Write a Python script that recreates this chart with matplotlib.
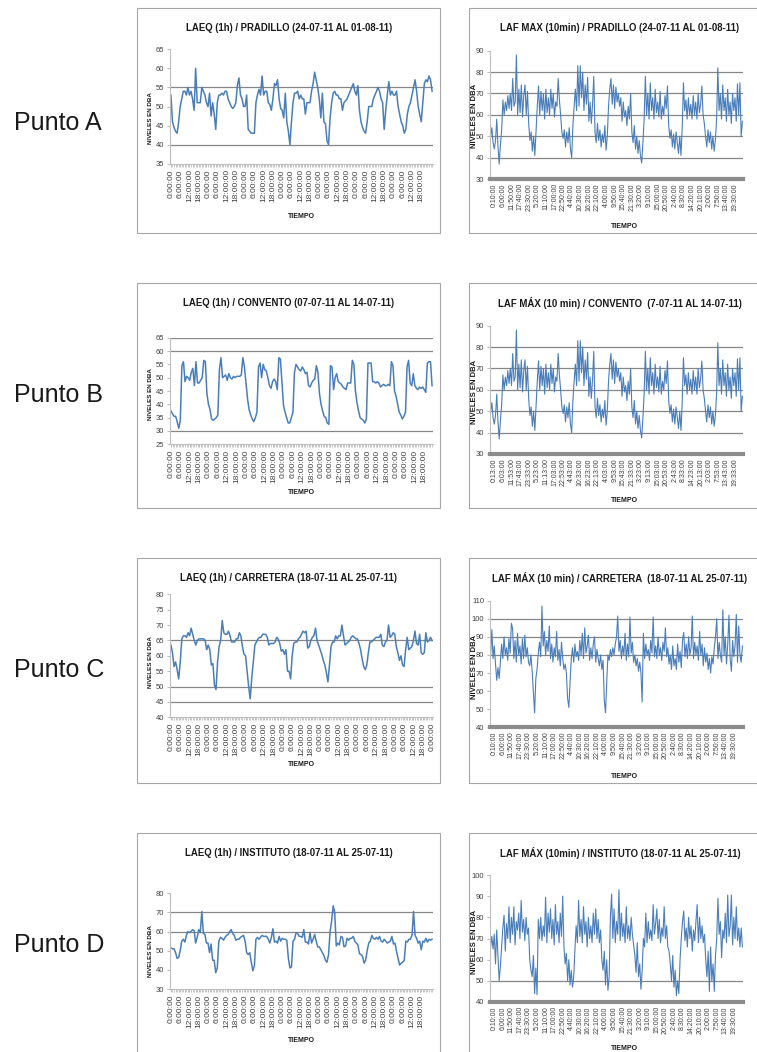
import numpy as np
import matplotlib
matplotlib.use('Agg')
import matplotlib.pyplot as plt
from matplotlib.patches import Rectangle

# ---- data ----
# hourly LAeq (one row of values per 6 h)
laeq_pradillo = [
    53, 46, 44.5, 43.5, 43, 46,  50, 52, 54, 54, 53, 55,  53, 54, 52, 49, 60, 51,  51, 51, 55, 54, 53, 51,
    50, 53.5, 47.5, 51, 48, 44,  51, 53, 53, 53.5, 53, 54,  54, 52, 51, 50, 49.5, 50,  51, 55.5, 57.5, 53, 52, 50,
    50, 53, 44, 43.5, 43, 43,  43, 51, 53, 54.5, 53, 58,  53, 54, 54, 51, 50.5, 49,  52, 56, 55.5, 57, 52, 49.5,
    49, 47, 53.5, 46, 43.5, 40,  46, 51, 53.5, 53.5, 54, 52,  53, 52, 52, 48, 51, 51,  51, 54, 56, 59, 57, 55,
    52, 47, 53.5, 46, 45.5, 41,  40, 47, 51, 53.5, 54, 53,  53, 52, 52, 49, 51, 51.5,  52, 53, 54, 55, 56, 54,
    53, 55.5, 49, 46, 44.5, 43.5,  43, 46, 50, 50, 50, 52,  53, 54, 55, 54, 52, 51,  44, 49, 53, 56.5, 53, 54,
    53, 53, 54, 50, 48, 46,  45, 43, 44, 48, 50, 51,  53, 55, 57, 54, 50, 48,  46, 51, 56, 57, 56.5, 58,
    57, 54]

laeq_convento = [
    37.5, 36.5, 35.5, 35.5, 33.5, 31, 34, 54.5, 56, 48.5, 50.5, 50, 49, 52, 53.5, 47, 56, 48, 48, 49, 50, 56.5, 56, 44,
    40, 38, 34.5, 34, 34.5, 35, 36, 53, 57.5, 50, 50.5, 51, 49, 51.5, 50, 49.5, 50.5, 50, 50.5, 50.5, 50.5, 51, 57.5, 54,
    48, 42, 38, 36, 34.5, 33.5, 35, 37, 54, 55.5, 50, 55, 53, 52.5, 50, 47, 46, 48.5, 49.5, 48.5, 45.5, 57.5, 57, 48,
    39.5, 37, 35, 33, 33, 35, 37, 52, 55, 54, 53, 52.5, 54, 53, 51.5, 52, 47, 46.5, 48, 49, 49.5, 54.5, 52, 44,
    40, 37.5, 35.5, 35, 33, 32.5, 54.5, 54, 45.5, 50, 51.5, 48.5, 48, 47.5, 46.5, 46, 45.5, 48, 48, 48, 56.5, 55, 45, 40.5,
    37.5, 35, 34.5, 34, 33, 34.5, 55.5, 55.5, 55.5, 48.5, 48.5, 48, 48.5, 48, 46.5, 47, 47.5, 47, 47, 47.5, 47, 56, 54.5, 45,
    43, 40, 37, 36, 34.5, 35.5, 37, 54, 56.5, 48, 47, 51.5, 47, 46, 45.5, 46.5, 46, 46.5, 45.5, 44.5, 55.5, 56, 56, 47]

laeq_carretera = [
    63.5, 61, 56.5, 58, 55.5, 52.5, 58, 65.5, 66.5, 66.5, 66, 67.5, 66.5, 69, 67, 65, 63.5, 65, 65.5, 65.5, 65.5, 65.5, 65, 62,
    63.5, 62, 57, 57.5, 50.5, 49, 58, 63, 65, 71.5, 67.5, 67, 67, 68, 66.5, 64.5, 64.5, 64.5, 65.5, 65.5, 67.5, 66.5, 63, 60.5,
    60, 55, 50, 46, 53, 58, 63.5, 64.5, 65.5, 66, 66, 67, 67, 67, 66, 63.5, 64, 64, 64, 64.5, 66, 65.5, 64, 61.5,
    62, 60.5, 62, 55, 55, 52.5, 60, 64, 64.5, 64.5, 65.5, 66, 67, 68, 67.5, 68, 62.5, 63, 65, 66, 66.5, 69, 65, 63.5,
    62, 60.5, 58.5, 57, 54.5, 51.5, 57, 63, 64.5, 64.5, 66.5, 65.5, 66.5, 66.5, 70, 66.5, 63.5, 64, 64.5, 65, 66, 66.5, 66, 65.5,
    65.5, 64, 62, 59, 56.5, 55.5, 57, 61, 64.5, 64.5, 65, 65.5, 66, 66, 66, 67, 63.5, 63, 64.5, 65, 70, 66, 66.5, 67.5,
    67, 63, 61, 58.5, 60, 57, 56.5, 62, 66, 62, 62.5, 63, 65, 68, 64, 63.5, 67, 61, 60.5, 61, 67.5, 64.5, 65, 66,
    65]

laeq_instituto = [
    51.5, 51, 51, 49, 46, 46.5, 50, 55, 56, 54.5, 58, 60, 59.5, 60, 61, 60.5, 54, 57, 61, 59.5, 70.5, 59, 58.5, 54,
    54, 49, 53.5, 45, 45, 38.5, 41, 55, 57, 56.5, 55.5, 57, 58, 58.5, 60, 61, 59, 58, 55.5, 56, 56, 57, 57.5, 58,
    55, 49, 48, 49, 44, 39.5, 42, 56, 57, 56, 57, 58, 57.5, 57.5, 57.5, 56, 54, 57, 61.5, 54.5, 55, 54, 57.5, 55,
    56.5, 56, 56, 55.5, 46, 41, 41.5, 55, 56, 59.5, 59, 57.5, 57.5, 57, 61, 54.5, 54.5, 53.5, 59.5, 54, 56, 58.5, 55, 52,
    52, 50.5, 49, 47.5, 45, 44, 48, 60, 65.5, 73.5, 70, 52.5, 54, 53, 57.5, 57, 52, 52.5, 56.5, 55.5, 56.5, 56.5, 57.5, 55,
    54, 53, 48.5, 48, 47, 43.5, 45, 50, 54, 55, 58, 56.5, 56, 57, 56, 57.5, 55, 54.5, 56, 55, 54, 54.5, 55, 57.5,
    53.5, 54, 49.5, 46, 42.5, 43.5, 44, 45, 55, 54.5, 56, 56, 58, 70.5, 58, 56.5, 54, 55, 50.5, 55, 54.5, 56.5, 54.5, 56,
    55.5, 56]

# LAF max, one value every 50 min (upper / lower envelope of the 10 min band)
lafmax_pradillo = [
    50, 54, 47, 44, 48, 58, 45, 37, 46,
    53, 67, 60, 66, 62,
    69, 63, 70, 62, 77, 64, 66,
    88,
    60, 72, 61, 74, 59, 69, 74, 60, 71,
    56,
    48, 52, 43, 50, 41, 53,
    64, 73.5,
    60, 71, 62, 70, 58, 72, 61, 68, 60, 72, 63, 70, 59, 66, 64, 77,
    67, 60, 52,
    49, 53, 45, 52, 47, 54, 44, 40,
    55, 64, 72, 62,
    83, 64, 83, 68, 80, 62, 74, 65, 77.5,
    57, 66, 56, 65, 78,
    52, 47, 56, 48, 53, 45, 51, 47, 55, 43.5, 50,
    64, 72, 77, 65, 74, 63, 73, 66, 70, 64, 68,
    57, 66, 59, 62, 55, 64, 58, 70,
    52, 47, 55, 44, 50, 42, 48, 41, 37.5, 47,
    58, 78,
    60, 70, 58, 75, 62, 68, 58, 72, 61, 66, 59, 71, 58, 64, 60, 69, 63, 73.5,
    55, 49, 53, 45, 51, 44, 52, 47, 42, 50, 41, 54,
    75, 62, 67, 58, 68, 60, 65, 58, 69, 60, 66, 58, 70, 61, 65, 73.5, 60, 56,
    50, 45, 53, 47, 52, 44, 50, 43, 48,
    58, 82,
    62, 70, 58, 74, 62, 68, 57, 72, 60, 66, 56, 70, 62, 68, 57, 74.5, 60, 75, 50,
    57]
# the CONVENTO LAF chart in the source shows the very same trace
lafmax_convento = list(lafmax_pradillo)

lafmax_carretera = [
    80, 94, 78, 85,
    75, 66, 73, 67, 76,
    86, 78, 90, 80, 84, 77, 89, 81, 97.5,
    94.5, 78, 88, 76, 92, 80, 85, 75, 89, 78, 91, 79, 84, 76,
    74, 80, 71,
    59, 48, 67, 72,
    81, 87, 79, 107, 85, 93, 80, 88, 82, 96, 78, 86,
    76, 84, 79, 93, 77, 83, 74, 87, 78, 72,
    75, 70, 56, 51, 64,
    78, 84, 76, 86, 79, 82, 77, 88, 80, 92, 78, 95, 81, 85,
    91, 77, 84, 78, 86, 90, 76, 83, 78,
    74, 80, 72, 77, 55, 48, 65,
    80, 77, 83, 79, 84, 80, 86,
    90, 101.5, 82, 88, 78, 85, 80, 92, 77, 86, 79, 101, 81, 87, 76,
    80, 74, 78, 71, 76, 70, 54,
    92, 78, 86, 80, 83, 77, 88, 81, 101, 79, 85, 78, 90, 80, 84, 77, 87, 82, 95, 79,
    84, 75, 80, 72, 85, 74, 78, 72, 86, 76, 82, 73, 88, 92.5,
    79, 86, 78, 90, 80, 84, 101.5, 78, 87, 80, 85, 77, 93,
    80, 86, 74, 84, 76, 81, 72, 78, 70, 79, 75,
    84, 90, 100, 78, 87, 80, 76, 105,
    80, 90, 75, 86, 102, 78, 71, 88, 79, 85, 102.5, 76, 96, 80, 76,
    85]

lafmax_instituto = [
    66, 71, 65, 72,
    58, 74, 62, 50, 57,
    66, 75, 81, 64, 77, 70,
    85, 68, 80, 72, 85, 67, 78, 74, 82, 70, 88, 73, 79, 69,
    80, 72, 75, 60,
    55, 52, 62, 44, 56,
    43.5, 79, 70,
    80, 69, 76, 71, 89.5, 68, 82, 73, 84, 70, 79, 67, 86, 72, 78, 68, 82, 71,
    90, 66,
    58, 63, 50, 60, 48, 55, 47, 52,
    65, 76, 68, 88,
    71, 79, 68, 85, 72, 78, 66, 80, 70, 76, 68, 82, 72, 84, 70, 79, 68, 74, 60,
    55, 64, 48, 60, 45.5, 52,
    80, 91, 70,
    84, 68, 78, 72, 93, 69, 82, 71, 77, 68, 85, 70, 76, 69, 80, 72, 67,
    62, 54, 68, 52, 58, 46, 55,
    70, 66, 82, 68,
    78, 70, 74, 69, 86, 72, 77, 84, 70, 79, 68, 75, 71, 85, 70, 76, 66, 64,
    58, 50, 62, 47, 55, 43, 50, 44, 60,
    70, 78, 83, 69, 75, 66, 80, 70, 76, 64, 74, 69, 78, 86, 68, 80, 70, 76, 68, 72,
    60, 52, 64, 45, 66, 50, 58, 45, 62,
    70, 89, 72, 78, 61, 74, 70, 82, 68, 90.5, 71, 76, 90.5, 67, 80, 70, 85, 69, 75, 66, 75,
    66]

# tick labels
hour_labels = ['0:00:00', '6:00:00', '12:00:00', '18:00:00']
labels_pradillo = hour_labels * 7
labels_convento = hour_labels * 7
labels_carretera = hour_labels * 7 + ['0:00:00']
labels_instituto = hour_labels * 7

laf_labels_10 = ['0:10:00', '6:00:00', '11:50:00', '17:40:00', '23:30:00', '5:20:00', '11:10:00',
                 '17:00:00', '22:50:00', '4:40:00', '10:30:00', '16:20:00', '22:10:00', '4:00:00',
                 '9:50:00', '15:40:00', '21:30:00', '3:20:00', '9:10:00', '15:00:00', '20:50:00',
                 '2:40:00', '8:30:00', '14:20:00', '20:10:00', '2:00:00', '7:50:00', '13:40:00', '19:30:00']
laf_labels_13 = ['0:13:00', '6:03:00', '11:53:00', '17:43:00', '23:33:00', '5:23:00', '11:13:00',
                 '17:03:00', '22:53:00', '4:43:00', '10:33:00', '16:23:00', '22:13:00', '4:03:00',
                 '9:53:00', '15:43:00', '21:33:00', '3:23:00', '9:13:00', '15:03:00', '20:53:00',
                 '2:43:00', '8:33:00', '14:23:00', '20:13:00', '2:03:00', '7:53:00', '13:43:00', '19:33:00']

puntos = ['Punto A', 'Punto B', 'Punto C', 'Punto D']

# ---- figure ----
W, H = 757, 1052
plt.rcParams['font.family'] = ['Liberation Sans', 'DejaVu Sans']
fig = plt.figure(figsize=(W / 100, H / 100), dpi=100)

BLUE = '#4a7ebb'
GRID = '#868686'
AX = '#bfbfbf'
TXT = '#404040'
TITLE_SIZE = 6.9


def add_axes_px(x0, y0, x1, y1):
    return fig.add_axes([x0 / W, 1 - y1 / H, (x1 - x0) / W, (y1 - y0) / H])


def text_px(x, y, s, **kw):
    fig.text(x / W, 1 - y / H, s, **kw)


def box_px(x0, y0, x1, y1):
    fig.patches.append(Rectangle((x0 / W, 1 - y1 / H), (x1 - x0) / W, (y1 - y0) / H,
                                 transform=fig.transFigure, fill=False,
                                 edgecolor='#a6a6a6', lw=0.8))


def laeq_chart(top, values, labels, ylim, grid, title, plot_y):
    box_px(137, top + 3, 440, top + 228)
    ax = add_axes_px(170, plot_y[0], 433, plot_y[1])
    n = len(values)
    ax.plot(np.arange(n), values, color=BLUE, lw=1.1)
    ax.set_xlim(-0.6, n - 0.4)
    ax.set_ylim(*ylim)
    ax.set_yticks(np.arange(ylim[0], ylim[1] + 1, 5 if ylim[1] - ylim[0] <= 40 else 10))
    for g in grid:
        ax.axhline(g, color=GRID, lw=0.9, zorder=0)
    ax.set_xticks(np.arange(len(labels)) * 6)
    ax.set_xticklabels(labels, rotation=90, fontsize=6, color=TXT)
    ax.set_xticks(np.arange(n), minor=True)
    ax.tick_params(axis='x', which='both', length=2, color=AX, pad=2)
    ax.tick_params(axis='y', length=2, color=AX, labelsize=5.5, labelcolor=TXT, pad=2)
    for s in ['top', 'right']:
        ax.spines[s].set_visible(False)
    for s in ['left', 'bottom']:
        ax.spines[s].set_color(AX)
        ax.spines[s].set_linewidth(0.8)
    text_px(289, top + 23, title, ha='center', va='center', fontsize=TITLE_SIZE,
            fontweight='bold', color='#1a1a1a')
    return ax


def laf_chart(top, values, labels, ylim, grid, title, plot_y):
    box_px(469, top + 3, 775, top + 228)
    ax = add_axes_px(490, plot_y[0], 743, plot_y[1])
    n = len(values)
    ax.plot(np.arange(n), values, color=BLUE, lw=0.8)
    ax.set_xlim(-0.5, n - 0.5)
    ax.set_ylim(*ylim)
    ax.set_yticks(np.arange(ylim[0], ylim[1] + 1, 10))
    for g in grid:
        ax.axhline(g, color=GRID, lw=0.9, zorder=0)
    ax.set_xticks(3 + np.arange(len(labels)) * 7)
    ax.set_xticklabels(labels, rotation=90, fontsize=5, color=TXT)
    ax.tick_params(axis='x', length=0, pad=3)
    ax.tick_params(axis='y', length=2, color=AX, labelsize=5.5, labelcolor=TXT, pad=2)
    for s in ['top', 'right']:
        ax.spines[s].set_visible(False)
    ax.spines['left'].set_color(AX)
    ax.spines['left'].set_linewidth(0.8)
    ax.spines['bottom'].set_color('#8c8c8c')
    ax.spines['bottom'].set_linewidth(3)
    text_px(620, top + 23, title, ha='center', va='center', fontsize=TITLE_SIZE,
            fontweight='bold', color='#1a1a1a')
    return ax


rows = [
    dict(top=5, laeq=laeq_pradillo, laeq_lab=labels_pradillo, laeq_ylim=(35, 65), laeq_grid=[40, 55],
         laeq_title='LAEQ (1h) / PRADILLO (24-07-11 AL 01-08-11)', laeq_y=(49.3, 163.7),
         laf=lafmax_pradillo, laf_lab=laf_labels_10, laf_ylim=(30, 90), laf_grid=[40, 50, 60, 70, 80],
         laf_title='LAF MAX (10min) / PRADILLO (24-07-11 AL 01-08-11)', laf_y=(50.7, 179)),
    dict(top=280, laeq=laeq_convento, laeq_lab=labels_convento, laeq_ylim=(25, 65), laeq_grid=[30, 60, 65],
         laeq_title='LAEQ (1h) / CONVENTO (07-07-11 AL 14-07-11)', laeq_y=(337.7, 444.3),
         laf=lafmax_convento, laf_lab=laf_labels_13, laf_ylim=(30, 90), laf_grid=[40, 50, 60, 70, 80],
         laf_title='LAF MÁX (10 min) / CONVENTO  (7-07-11 AL 14-07-11)', laf_y=(325.7, 454)),
    dict(top=555, laeq=laeq_carretera, laeq_lab=labels_carretera, laeq_ylim=(40, 80), laeq_grid=[45, 50, 65],
         laeq_title='LAEQ (1h) / CARRETERA (18-07-11 AL 25-07-11)', laeq_y=(594.3, 717.3),
         laf=lafmax_carretera, laf_lab=laf_labels_10, laf_ylim=(40, 110), laf_grid=[80, 90, 100],
         laf_title='LAF MÁX (10 min) / CARRETERA  (18-07-11 AL 25-07-11)', laf_y=(600.7, 727.3)),
    dict(top=830, laeq=laeq_instituto, laeq_lab=labels_instituto, laeq_ylim=(30, 80), laeq_grid=[60, 70],
         laeq_title='LAEQ (1h) / INSTITUTO (18-07-11 AL 25-07-11)', laeq_y=(893.3, 989),
         laf=lafmax_instituto, laf_lab=laf_labels_10, laf_ylim=(40, 100), laf_grid=[50],
         laf_title='LAF MÁX (10min) / INSTITUTO (18-07-11 AL 25-07-11)', laf_y=(875, 1002)),
]

ylab_y_left = [118, 394, 662, 951]
ylab_y_right = [116, 392, 667, 942]
tiempo_y_left = [217, 492, 765, 1040]
tiempo_y_right = [226, 501, 776, 1049]
punto_y = [123, 395, 670, 945]

for i, r in enumerate(rows):
    laeq_chart(r['top'], r['laeq'], r['laeq_lab'], r['laeq_ylim'], r['laeq_grid'], r['laeq_title'], r['laeq_y'])
    laf_chart(r['top'], r['laf'], r['laf_lab'], r['laf_ylim'], r['laf_grid'], r['laf_title'], r['laf_y'])
    text_px(150, ylab_y_left[i], 'NIVELES EN DBA', rotation=90, ha='center', va='center',
            fontsize=4.5, fontweight='bold', color='#1a1a1a')
    text_px(474, ylab_y_right[i], 'NIVELES EN DBA', rotation=90, ha='center', va='center',
            fontsize=5.5, fontweight='bold', color='#1a1a1a')
    text_px(301, tiempo_y_left[i], 'TIEMPO', ha='center', va='center', fontsize=5,
            fontweight='bold', color='#1a1a1a')
    text_px(624, tiempo_y_right[i], 'TIEMPO', ha='center', va='center', fontsize=5,
            fontweight='bold', color='#1a1a1a')
    text_px(14, punto_y[i], puntos[i], ha='left', va='center', fontsize=18, color='#1a1a1a')

fig.savefig('out.png', dpi=100)
